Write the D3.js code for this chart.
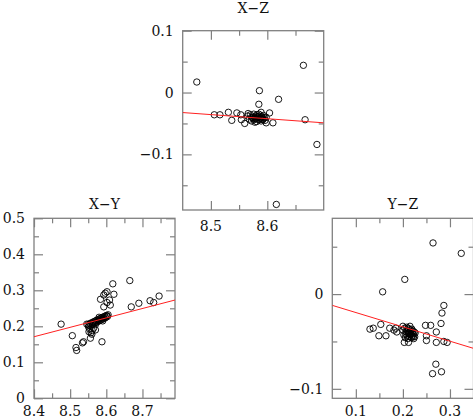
<!DOCTYPE html>
<html><head><meta charset="utf-8">
<script src="https://cdn.jsdelivr.net/npm/d3@7"></script>
<style>
html,body{margin:0;padding:0;background:#fff;}
svg{display:block;}
text{font-family:"DejaVu Serif",serif;font-size:14px;fill:#111;}
</style></head>
<body>
<script>
// ---------- DATA ----------
const titles = ["X\u2212Z", "X\u2212Y", "Y\u2212Z"];

const xzPoints = [
  [8.475,0.017],[8.664,0.044],[8.586,0.003],[8.620,-0.011],[8.585,-0.019],[8.667,-0.044],
  [8.688,-0.084],[8.616,-0.181],
  [8.506,-0.036],[8.516,-0.036],[8.531,-0.032],[8.537,-0.045],[8.546,-0.033],[8.553,-0.036],
  [8.554,-0.044],[8.560,-0.050],[8.566,-0.034],[8.572,-0.040],[8.578,-0.048],[8.589,-0.032],
  [8.604,-0.033],[8.610,-0.049],[8.598,-0.049],[8.592,-0.044],
  [8.565,-0.038],[8.568,-0.043],[8.570,-0.036],[8.572,-0.046],[8.574,-0.040],[8.576,-0.035],
  [8.577,-0.044],[8.579,-0.038],[8.580,-0.042],[8.581,-0.047],[8.582,-0.036],[8.584,-0.040],
  [8.585,-0.044],[8.586,-0.038],[8.588,-0.042],[8.589,-0.046],[8.590,-0.039],[8.592,-0.043],
  [8.593,-0.037],[8.595,-0.041],[8.596,-0.045],[8.598,-0.040],[8.575,-0.042],[8.583,-0.039],
  [8.587,-0.041],[8.591,-0.040],[8.578,-0.041],[8.585,-0.035]
];
const xyPoints = [
  [8.475,0.206],[8.506,0.174],[8.516,0.141],[8.518,0.133],[8.534,0.154],[8.537,0.157],
  [8.556,0.167],[8.558,0.182],[8.554,0.192],[8.570,0.190],[8.546,0.206],[8.588,0.157],
  [8.618,0.318],[8.665,0.327],[8.593,0.287],[8.597,0.292],[8.602,0.296],[8.584,0.275],
  [8.621,0.289],[8.609,0.273],[8.611,0.259],[8.593,0.254],[8.602,0.266],[8.669,0.254],
  [8.690,0.264],[8.721,0.271],[8.731,0.266],[8.746,0.284],[8.602,0.229],
  [8.552,0.185],[8.560,0.178],[8.565,0.195],[8.551,0.198],[8.561,0.188],
  [8.550,0.205],[8.553,0.202],[8.555,0.208],[8.558,0.204],[8.560,0.210],[8.562,0.206],
  [8.564,0.212],[8.566,0.208],[8.568,0.214],[8.570,0.210],[8.572,0.216],[8.574,0.212],
  [8.576,0.218],[8.578,0.214],[8.580,0.220],[8.582,0.216],[8.584,0.222],[8.586,0.218],
  [8.588,0.224],[8.590,0.220],[8.592,0.226],[8.594,0.222],[8.596,0.228],[8.598,0.224],
  [8.600,0.230],[8.603,0.227],[8.605,0.232],[8.570,0.205],[8.580,0.225],[8.590,0.215]
];
const yzPoints = [
  [0.264,0.054],[0.324,0.043],[0.204,0.0155],[0.157,0.0024],[0.287,-0.012],[0.283,-0.020],
  [0.281,-0.031],[0.259,-0.033],[0.248,-0.033],[0.271,-0.040],[0.250,-0.044],[0.250,-0.049],
  [0.271,-0.051],[0.287,-0.050],[0.294,-0.051],[0.270,-0.074],[0.263,-0.084],[0.282,-0.082],
  [0.130,-0.037],[0.137,-0.036],[0.153,-0.032],[0.149,-0.044],[0.164,-0.044],[0.172,-0.036],
  [0.181,-0.038],[0.185,-0.036],[0.187,-0.040],[0.200,-0.034],[0.215,-0.034],[0.203,-0.051],
  [0.212,-0.051],[0.222,-0.045],
  [0.200,-0.038],[0.202,-0.043],[0.204,-0.036],[0.205,-0.046],[0.207,-0.040],[0.208,-0.035],
  [0.209,-0.044],[0.210,-0.039],[0.211,-0.047],[0.212,-0.042],[0.213,-0.037],[0.214,-0.045],
  [0.215,-0.040],[0.216,-0.043],[0.217,-0.038],[0.218,-0.046],[0.219,-0.041],[0.220,-0.044],
  [0.221,-0.039],[0.222,-0.042],[0.224,-0.040],[0.225,-0.045],[0.226,-0.041],[0.206,-0.042],
  [0.213,-0.041],[0.217,-0.042],[0.211,-0.036],[0.219,-0.037],[0.223,-0.047]
];
// fitted lines: [[x0,y0],[x1,y1]]
const xzFit = [[8.45,-0.0324],[8.70,-0.049]];
const xyFit = [[8.40,0.171],[8.79,0.273]];
const yzFit = [[0.05,-0.0119],[0.35,-0.0573]];

// axis domains and tick values
const xzXDomain = [8.45, 8.70], xzYDomain = [-0.19, 0.10];
const xyXDomain = [8.40, 8.79], xyYDomain = [0, 0.5];
const yzXDomain = [0.05, 0.35], yzYDomain = [-0.11, 0.08];
const xzXMajor = [8.5, 8.6], xzXMinor = [8.55, 8.65];
const xzYMajor = [-0.1, 0, 0.1], xzYMinor = [-0.15, -0.05, 0.05];
const xyXMajor = [8.4, 8.5, 8.6, 8.7], xyXMinor = [8.45, 8.55, 8.65, 8.75];
const xyYMajor = [0, 0.1, 0.2, 0.3, 0.4, 0.5], xyYMinor = [0.05, 0.15, 0.25, 0.35, 0.45];
const yzXMajor = [0.1, 0.2, 0.3], yzXMinor = [0.15, 0.25];
const yzYMajor = [-0.1, 0], yzYMinor = [-0.05, 0.05];

// ---------- LAYOUT ----------
const W = 473, H = 419;
const svg = d3.select("body").append("svg").attr("width", W).attr("height", H);

const panels = [
  {title: titles[0], pts: xzPoints, fit: xzFit, xd: xzXDomain, yd: xzYDomain,
   xM: xzXMajor, xm: xzXMinor, yM: xzYMajor, ym: xzYMinor,
   box: {x0: 182.7, x1: 323.7, y0: 30.7, y1: 210}, titleY: 12.5, xlOff: 20.5},
  {title: titles[1], pts: xyPoints, fit: xyFit, xd: xyXDomain, yd: xyYDomain,
   xM: xyXMajor, xm: xyXMinor, yM: xyYMajor, ym: xyYMinor,
   box: {x0: 34, x1: 175, y0: 218.3, y1: 398.3}, titleY: 208.5, xlOff: 17.5},
  {title: titles[2], pts: yzPoints, fit: yzFit, xd: yzXDomain, yd: yzYDomain,
   xM: yzXMajor, xm: yzXMinor, yM: yzYMajor, ym: yzYMinor,
   box: {x0: 332.3, x1: 473.5, y0: 218.3, y1: 398.3}, titleY: 208.5, xlOff: 17.5}
];

const fmt = v => d3.format("")(+v.toFixed(3)).replace("-", "\u2212");
const frameColor = "#808080";

panels.forEach((p, i) => {
  const b = p.box;
  const x = d3.scaleLinear().domain(p.xd).range([b.x0, b.x1]);
  const y = d3.scaleLinear().domain(p.yd).range([b.y1, b.y0]);
  const g = svg.append("g");

  const clipId = "clip" + i;
  svg.append("clipPath").attr("id", clipId).append("rect")
    .attr("x", b.x0).attr("y", b.y0).attr("width", b.x1 - b.x0).attr("height", b.y1 - b.y0);

  // ticks on all four sides, inward
  const major = 9, minor = 5;
  const addAxis = (axisFn, scale, vals, len, tr) => {
    g.append("g").attr("transform", tr)
      .call(axisFn(scale).tickValues(vals).tickSize(len).tickFormat(""))
      .call(s => s.select(".domain").remove())
      .call(s => s.selectAll("line").attr("stroke", frameColor).attr("stroke-width", 1.2));
  };
  addAxis(d3.axisTop, x, p.xM, major, `translate(0,${b.y1})`);
  addAxis(d3.axisTop, x, p.xm, minor, `translate(0,${b.y1})`);
  addAxis(d3.axisBottom, x, p.xM, major, `translate(0,${b.y0})`);
  addAxis(d3.axisBottom, x, p.xm, minor, `translate(0,${b.y0})`);
  addAxis(d3.axisRight, y, p.yM, major, `translate(${b.x0},0)`);
  addAxis(d3.axisRight, y, p.ym, minor, `translate(${b.x0},0)`);
  addAxis(d3.axisLeft, y, p.yM, major, `translate(${b.x1},0)`);
  addAxis(d3.axisLeft, y, p.ym, minor, `translate(${b.x1},0)`);

  // frame
  g.append("rect").attr("x", b.x0).attr("y", b.y0)
    .attr("width", b.x1 - b.x0).attr("height", b.y1 - b.y0)
    .attr("fill", "none").attr("stroke", frameColor).attr("stroke-width", 1.3);

  // tick labels
  g.selectAll(".xl").data(p.xM).join("text")
    .attr("x", d => x(d)).attr("y", b.y1 + p.xlOff)
    .attr("text-anchor", "middle").text(fmt);
  g.selectAll(".yl").data(p.yM).join("text")
    .attr("x", b.x0 - 9).attr("y", d => y(d) + 5)
    .attr("text-anchor", "end").text(fmt);

  // title
  g.append("text").attr("x", (b.x0 + b.x1) / 2).attr("y", p.titleY)
    .attr("text-anchor", "middle").text(p.title);

  // points
  const pg = g.append("g").attr("clip-path", `url(#${clipId})`);
  pg.selectAll("circle").data(p.pts).join("circle")
    .attr("cx", d => x(d[0])).attr("cy", d => y(d[1])).attr("r", 3.2)
    .attr("fill", "none").attr("stroke", "#000").attr("stroke-width", 0.9);

  // fit line
  pg.append("line")
    .attr("x1", x(p.fit[0][0])).attr("y1", y(p.fit[0][1]))
    .attr("x2", x(p.fit[1][0])).attr("y2", y(p.fit[1][1]))
    .attr("stroke", "#ff2020").attr("stroke-width", 1);
});
</script>
</body></html>
